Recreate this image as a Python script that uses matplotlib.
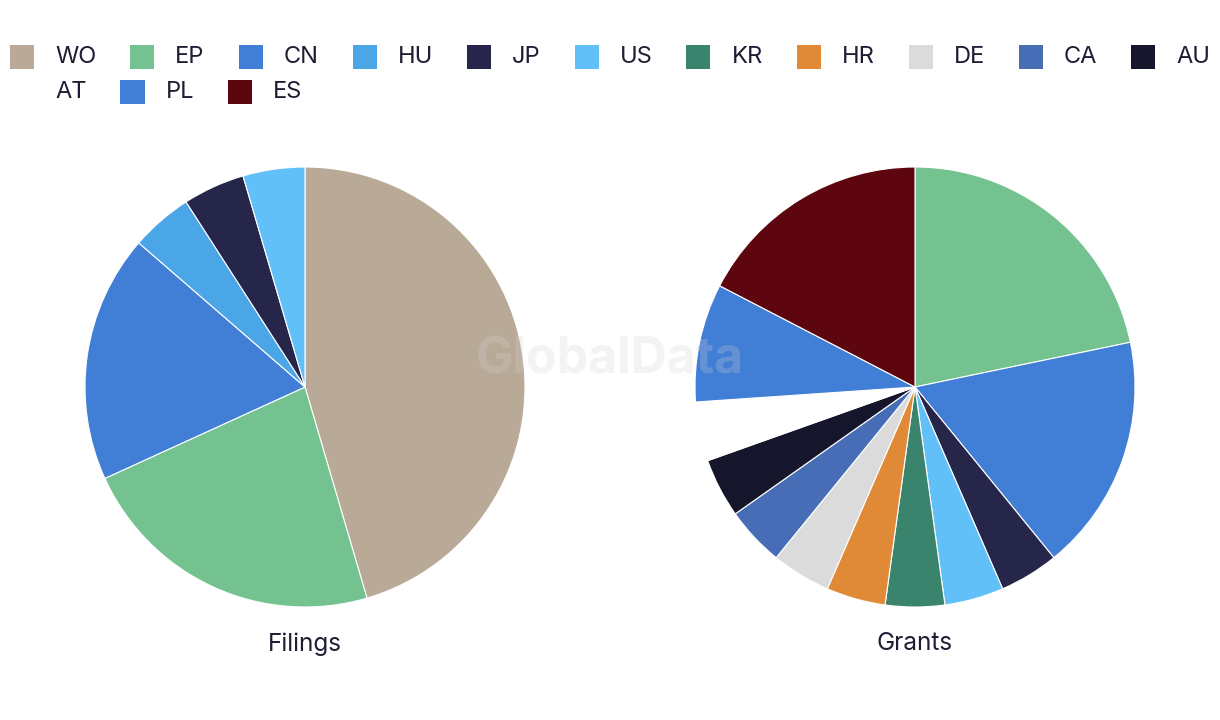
import matplotlib
matplotlib.use("Agg")
from matplotlib import pyplot as plt
from matplotlib.patches import Rectangle

plt.rcParams['font.family'] = ['Inter', 'DejaVu Sans']

legend_labels = ['WO', 'EP', 'CN', 'HU', 'JP', 'US', 'KR', 'HR', 'DE', 'CA', 'AU', 'AT', 'PL', 'ES']
legend_colors = ['#b8aa96', '#73c290', '#417ed6', '#4aa6e6', '#25264a', '#62c0f8', '#3a836c',
                 '#e08a38', '#dbdbdb', '#466db6', '#15162b', '#ffffff', '#417ed6', '#5e0610']
color_of = dict(zip(legend_labels, legend_colors))

filings_labels = ['WO', 'EP', 'CN', 'HU', 'JP', 'US']
filings_values = [10, 5, 4, 1, 1, 1]

grants_labels = ['EP', 'CN', 'JP', 'US', 'KR', 'HR', 'DE', 'CA', 'AU', 'AT', 'PL', 'ES']
grants_values = [5, 4, 1, 1, 1, 1, 1, 1, 1, 1, 2, 4]

W, H = 1220, 720
TEXT = '#1d1d33'

fig = plt.figure(figsize=(12.2, 7.2), dpi=100)


def pie_axes(cx, cy, r):
    ax = fig.add_axes([(cx - r) / W, 1 - (cy + r) / H, 2 * r / W, 2 * r / H])
    return ax


for cx, labels, values, title in [
    (305, filings_labels, filings_values, 'Filings'),
    (915, grants_labels, grants_values, 'Grants'),
]:
    ax = pie_axes(cx, 387, 220)
    ax.pie(values, colors=[color_of[l] for l in labels], startangle=90,
           counterclock=False, radius=1,
           wedgeprops=dict(edgecolor='white', linewidth=0.8))
    ax.set_xlim(-1, 1)
    ax.set_ylim(-1, 1)
    ax.set_aspect('equal')
    ax.axis('off')
    fig.text(cx / W, 1 - 644 / H, title, ha='center', va='center',
             fontsize=17.5, color=TEXT)

# watermark
fig.text(610 / W, 1 - 360 / H, 'GlobalData', ha='center', va='center',
         fontsize=36, fontweight='bold', color='#d0d0d0', alpha=0.25, zorder=10)

# flow legend across the top
renderer = fig.canvas.get_renderer()
x = 10
row_y = [57, 92]
row = 0
for lab in legend_labels:
    t = fig.text(0, 0, lab, fontsize=17, color=TEXT, va='center', ha='left')
    tw = t.get_window_extent(renderer).width
    if x + 45 + tw > W - 2:
        row += 1
        x = 10
    y = row_y[row]
    fig.patches.append(Rectangle((x / W, 1 - (y + 12) / H), 24 / W, 24 / H,
                                 transform=fig.transFigure, facecolor=color_of[lab],
                                 edgecolor='none'))
    t.set_position(((x + 45) / W, 1 - y / H))
    x += 45 + tw + 34

fig.savefig('out.png', dpi=100, facecolor='white')
